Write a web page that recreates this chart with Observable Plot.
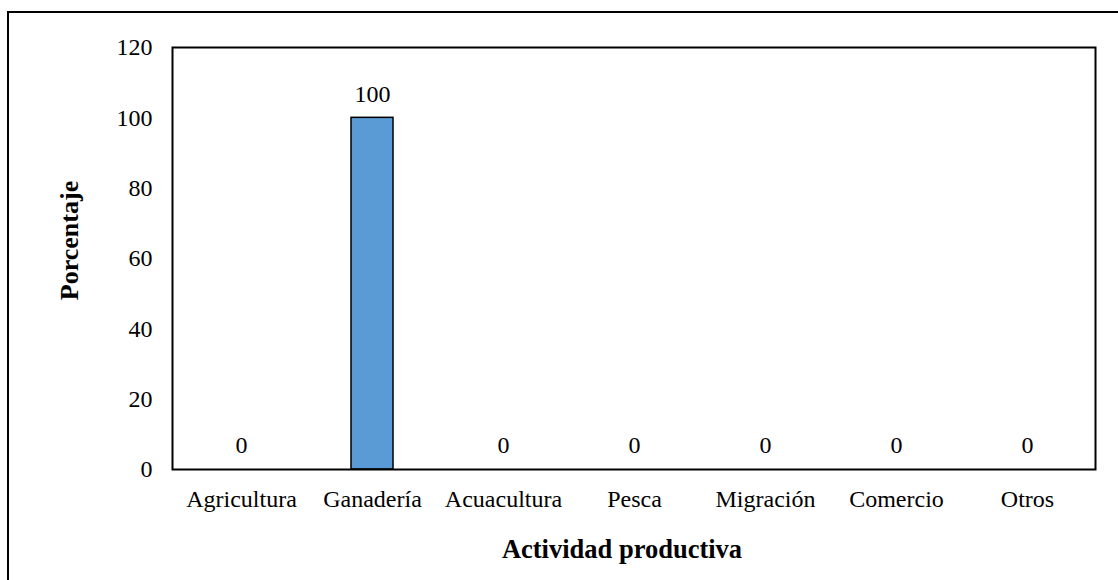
<!DOCTYPE html>
<html>
<head>
<meta charset="utf-8">
<script src="https://cdn.jsdelivr.net/npm/d3@7"></script>
<script src="https://cdn.jsdelivr.net/npm/@observablehq/plot@0.6"></script>
<style>
  html, body { margin: 0; padding: 0; background: #fff; overflow: hidden; }
  #wrap { position: relative; width: 1118px; height: 580px; }
  #border { position: absolute; left: 7px; top: 11px; width: 1200px; height: 700px;
            border-left: 2px solid #000; border-top: 2px solid #000; pointer-events: none; }
  #chart { position: absolute; left: 0; top: 0; }
  svg { font-family: "Liberation Serif", "Times New Roman", serif; }
</style>
</head>
<body>
<div id="wrap"><div id="chart"></div><div id="border"></div></div>
<script>
const categories = ["Agricultura", "Ganadería", "Acuacultura", "Pesca", "Migración", "Comercio", "Otros"];
const values = [0, 100, 0, 0, 0, 0, 0];
const yTicks = [0, 20, 40, 60, 80, 100, 120];
const xTitle = "Actividad productiva";
const yTitle = "Porcentaje";

const data = categories.map((c, i) => ({cat: c, value: values[i]}));

const chart = Plot.plot({
  width: 1118,
  height: 580,
  marginLeft: 172,
  marginRight: 23,
  marginTop: 47,
  marginBottom: 111,
  style: {fontFamily: '"Liberation Serif", "Times New Roman", serif', fontSize: "24px", color: "#000", background: "transparent"},
  x: {domain: categories, paddingInner: 0.68, paddingOuter: 0.34, label: null},
  y: {domain: [0, 120], ticks: yTicks, label: null},
  marks: [
    Plot.barY(data, {x: "cat", y: "value", fill: "#5B9BD5", stroke: "#000", strokeWidth: 1.5}),
    Plot.text(data, {x: "cat", y: "value", text: d => String(d.value), dy: -24, lineAnchor: "middle", fontSize: 24, fill: "#000"}),
    Plot.axisY({ticks: yTicks, tickSize: 0, tickPadding: 20, label: null, fontSize: 24}),
    Plot.axisX({tickSize: 0, tickPadding: 20, label: null, fontSize: 24}),
    Plot.frame({stroke: "#000", strokeWidth: 2}),
    Plot.text([xTitle], {frameAnchor: "bottom", text: d => d, dy: 80, dx: -12, lineAnchor: "middle", fontSize: 26.5, fontWeight: "bold", fill: "#000"}),
    Plot.text([yTitle], {frameAnchor: "left", text: d => d, dx: -103, dy: -18, rotate: -90, textAnchor: "middle", lineAnchor: "middle", fontSize: 26, fontWeight: "bold", fill: "#000"})
  ]
});
document.getElementById("chart").appendChild(chart);
</script>
</body>
</html>
